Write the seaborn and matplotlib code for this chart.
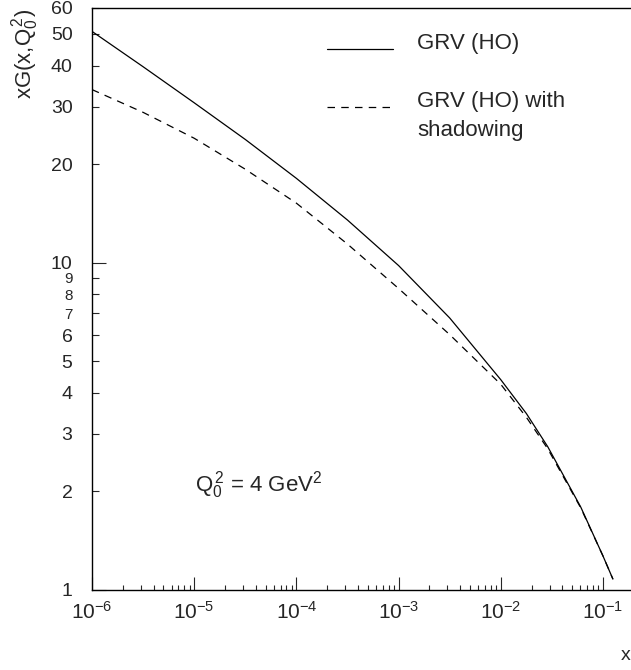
import numpy as np
import pandas as pd
import seaborn as sns
import matplotlib
matplotlib.use("Agg")
import matplotlib.pyplot as plt
from matplotlib.lines import Line2D
from matplotlib.ticker import FixedLocator, FixedFormatter, NullFormatter

# ---- data ----
x_grv = [1e-6, 3.16e-6, 1e-5, 3.16e-5, 1e-4, 3.16e-4, 1e-3, 3.16e-3, 1e-2, 0.0178,
         0.0288, 0.0607, 0.1, 0.125]
y_grv = [50.9, 39.7, 30.8, 23.8, 18.1, 13.5, 9.8, 6.78, 4.39, 3.46,
         2.74, 1.79, 1.27, 1.08]

x_shad = [1e-6, 3.16e-6, 1e-5, 3.16e-5, 1e-4, 3.16e-4, 1e-3, 3.16e-3, 1e-2, 0.0178,
          0.0288, 0.0607, 0.1, 0.125]
y_shad = [33.8, 28.8, 24.0, 19.3, 15.2, 11.4, 8.34, 6.03, 4.25, 3.37,
          2.70, 1.78, 1.27, 1.08]

series_names = ["GRV (HO)", "GRV (HO) with\nshadowing"]
ytick_vals = [1, 2, 3, 4, 5, 6, 7, 8, 9, 10, 20, 30, 40, 50, 60]
xtick_vals = [1e-6, 1e-5, 1e-4, 1e-3, 1e-2, 1e-1]
xtick_labels = [r"$\mathregular{10^{-6}}$", r"$\mathregular{10^{-5}}$", r"$\mathregular{10^{-4}}$",
                r"$\mathregular{10^{-3}}$", r"$\mathregular{10^{-2}}$", r"$\mathregular{10^{-1}}$"]

df = pd.DataFrame({
    "x": x_grv + x_shad,
    "y": y_grv + y_shad,
    "series": [series_names[0]] * len(x_grv) + [series_names[1]] * len(x_shad),
})

sns.set_style("white")
plt.rcParams["font.family"] = ["Liberation Sans", "DejaVu Sans"]
plt.rcParams["mathtext.fontset"] = "custom"
plt.rcParams["mathtext.rm"] = "Liberation Sans"
plt.rcParams["mathtext.it"] = "Liberation Sans"

W, H = 631, 670
fig = plt.figure(figsize=(W / 100, H / 100), dpi=100)
ax = fig.add_axes([92 / W, (H - 590) / H, (W - 92) / W, (590 - 8) / H])
ax.set_xscale("log")
ax.set_yscale("log")

sns.lineplot(data=df, x="x", y="y", style="series", style_order=series_names,
             dashes={series_names[0]: "", series_names[1]: (6, 5)},
             color="black", linewidth=0.9, legend=False, ax=ax, sort=False)

ax.set_xlim(1e-6, 10 ** (-6 + (W - 92) / 102.2))
ax.set_ylim(1, 60)

for s in ["left", "bottom", "top"]:
    ax.spines[s].set_visible(True)
    ax.spines[s].set_color("black")
    ax.spines[s].set_linewidth(1.0)
ax.spines["right"].set_visible(False)

# x ticks
ax.xaxis.set_major_locator(FixedLocator(xtick_vals))
ax.xaxis.set_major_formatter(FixedFormatter(xtick_labels))
minors = [m * 10.0 ** e for e in range(-6, 0) for m in range(2, 10)]
ax.xaxis.set_minor_locator(FixedLocator(minors))
ax.xaxis.set_minor_formatter(NullFormatter())
ax.tick_params(axis="x", which="major", direction="in", length=9.5, width=0.8,
               labelsize=15, pad=8, top=False, bottom=True)
ax.tick_params(axis="x", which="minor", direction="in", length=3.6, width=0.8,
               top=False, bottom=True)

# y ticks
ax.yaxis.set_major_locator(FixedLocator([1, 10]))
ax.yaxis.set_major_formatter(FixedFormatter(["1", "10"]))
ymin_vals = [v for v in ytick_vals if v not in (1, 10)]
ax.yaxis.set_minor_locator(FixedLocator(ymin_vals))
ax.yaxis.set_minor_formatter(FixedFormatter([str(v) for v in ymin_vals]))
ax.tick_params(axis="y", which="major", direction="in", length=10, width=0.8,
               labelsize=14, pad=14, left=True, right=False)
ax.tick_params(axis="y", which="minor", direction="in", length=5, width=0.8,
               labelsize=14, pad=14, left=True, right=False)
for lab, v in zip(ax.yaxis.get_minorticklabels(), ymin_vals):
    if v in (7, 8, 9):
        lab.set_fontsize(11)
ax.set_xlabel("")
ax.set_ylabel("")

# axis titles
fig.text(25 / W, 1 - 54 / H, r"xG(x,Q$\mathregular{_0^{\,2}}$)", rotation=90,
         ha="center", va="center", fontsize=16)
fig.text(626 / W, 1 - 655 / H, "x", ha="center", va="center", fontsize=14)

# legend (manual, like the original)
fig.add_artist(Line2D([327 / W, 393 / W], [1 - 49 / H, 1 - 49 / H], color="black", lw=0.9))
fig.add_artist(Line2D([327 / W, 393 / W], [1 - 107 / H, 1 - 107 / H], color="black", lw=0.9,
                      dashes=(6, 5)))
fig.text(417 / W, 1 - 43 / H, series_names[0], ha="left", va="center", fontsize=16)
fig.text(417 / W, 1 - 116 / H, series_names[1], ha="left", va="center", fontsize=16,
         linespacing=1.45)

# annotation
fig.text(195 / W, 1 - 485 / H, r"Q$\mathregular{_0^{\,2}}$ = 4 GeV$\mathregular{^2}$",
         ha="left", va="center", fontsize=16)

fig.savefig("out.png", dpi=100)
